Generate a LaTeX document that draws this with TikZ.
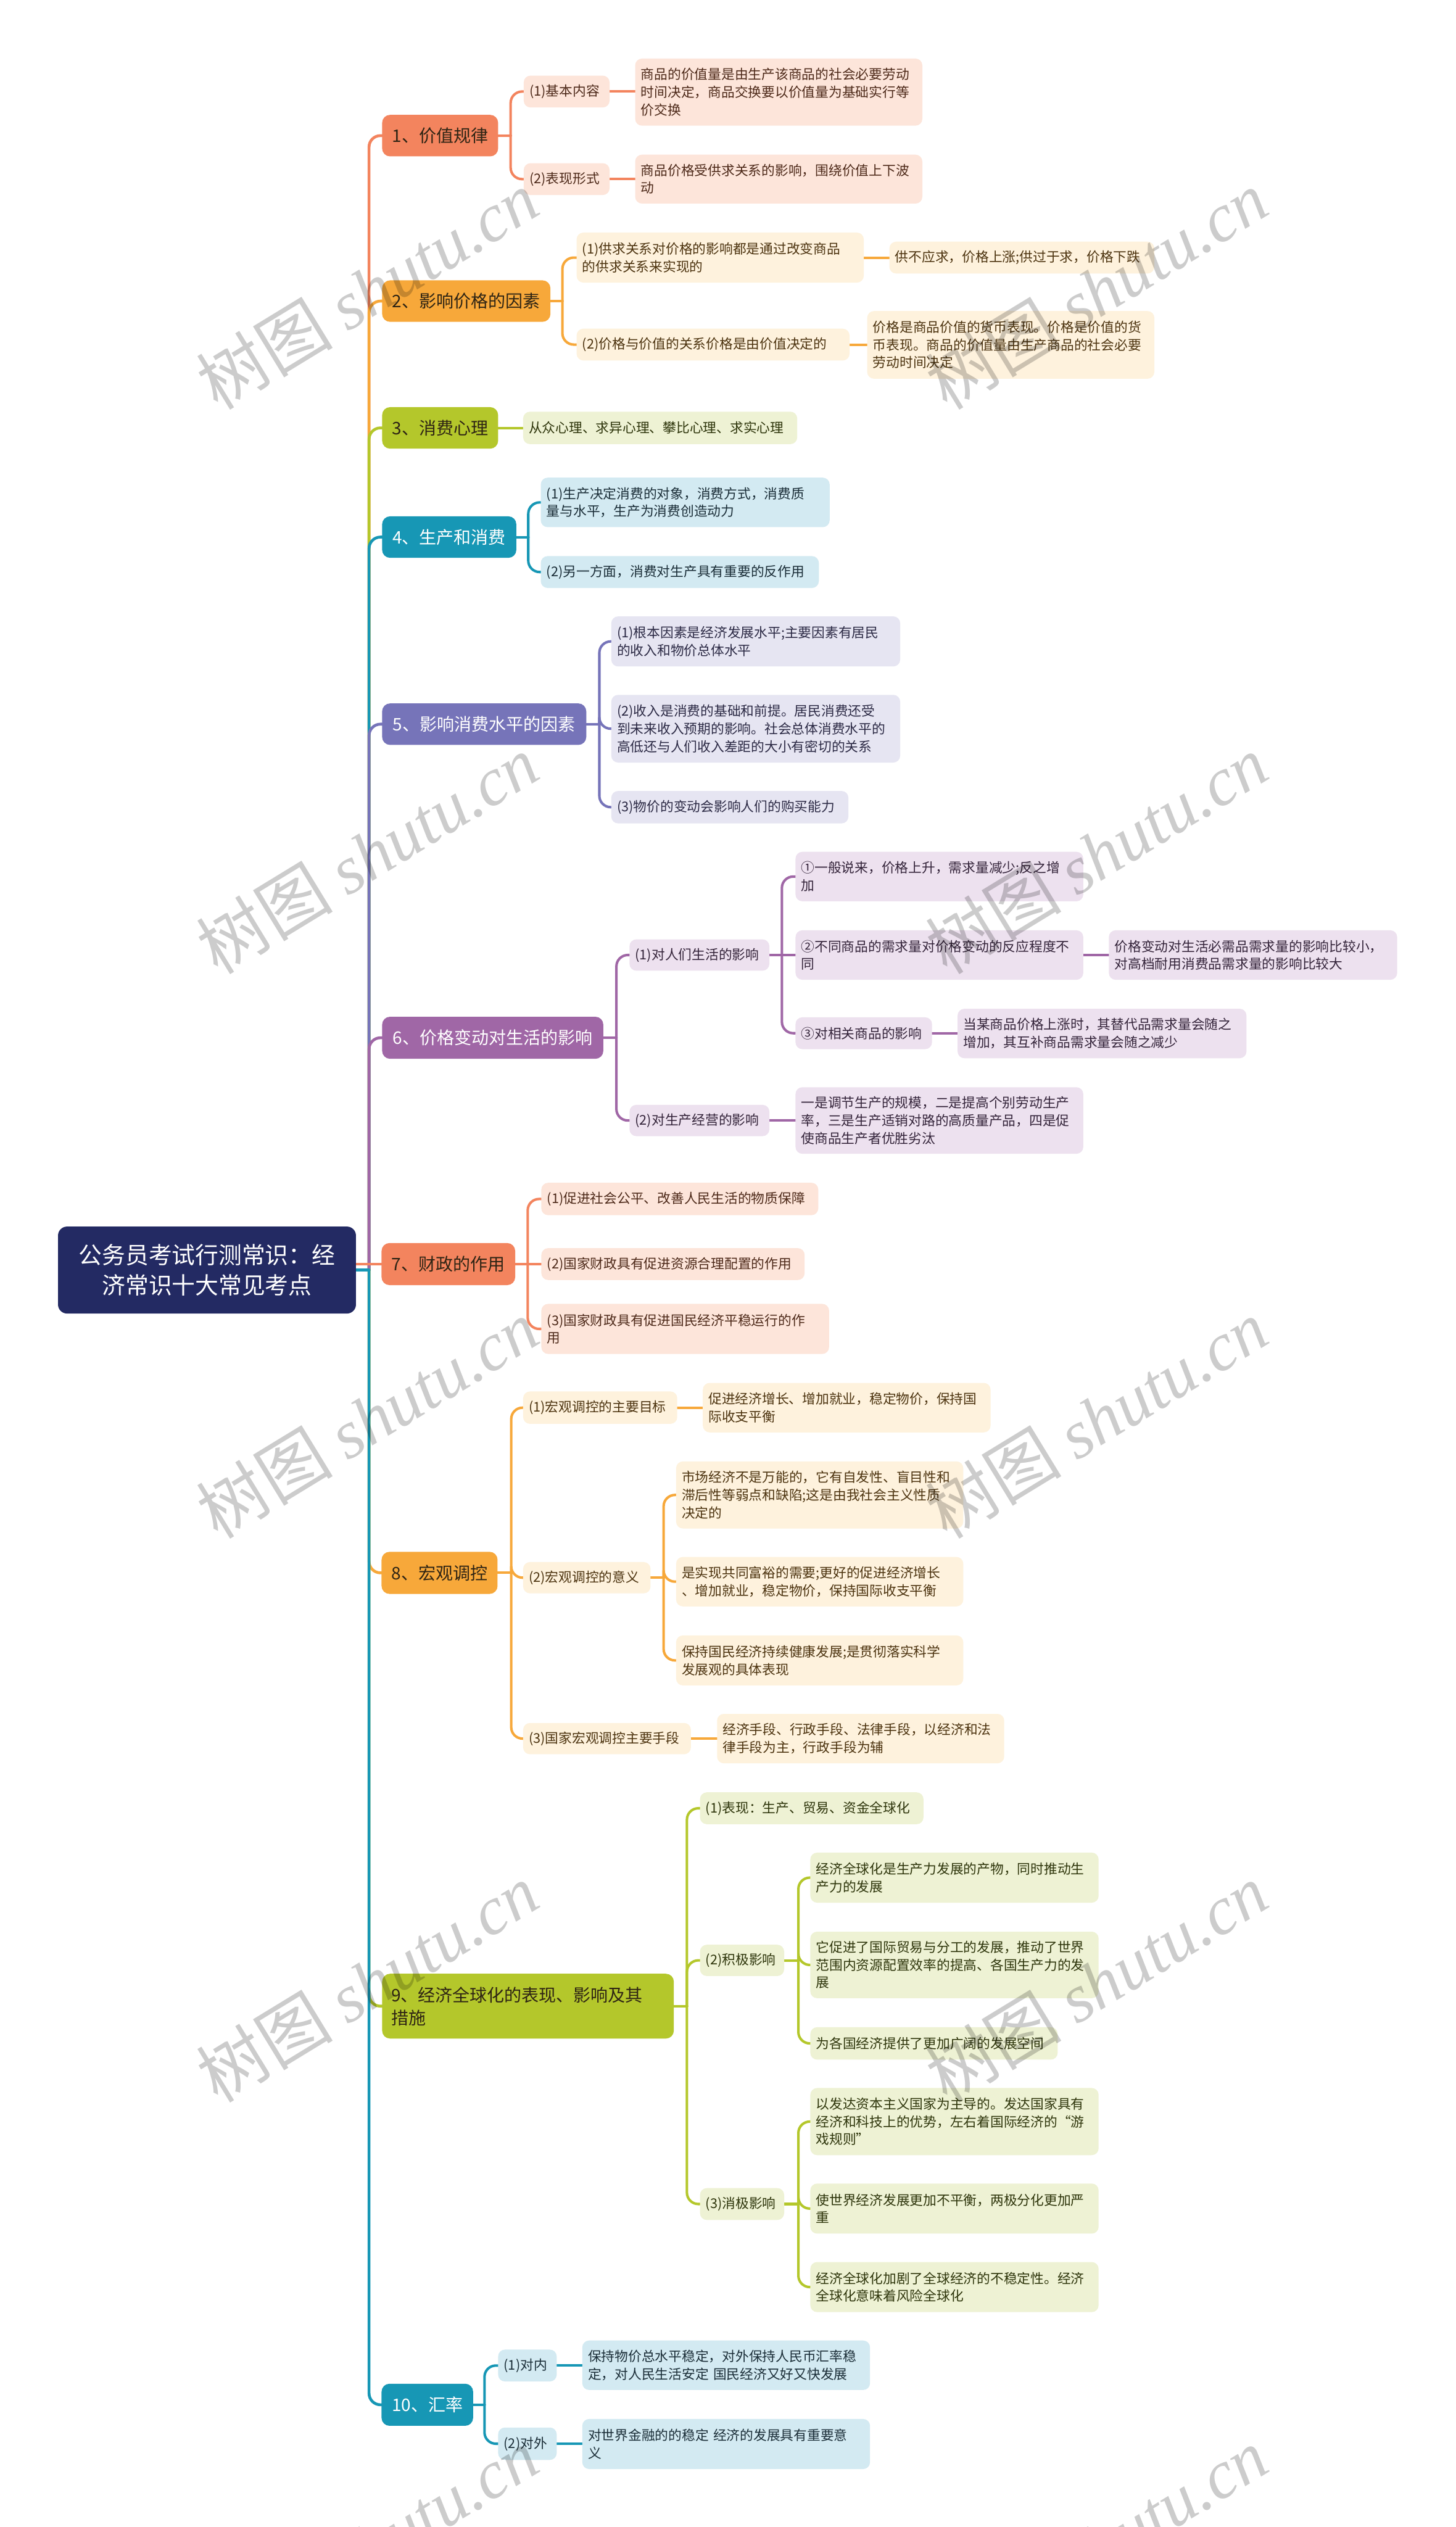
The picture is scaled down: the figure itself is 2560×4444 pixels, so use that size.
\documentclass[tikz,border=0pt]{standalone}
\usepackage{fontspec}
\setmainfont{Noto Sans CJK SC}
\newfontfamily\wmlatin{Liberation Serif}
\pgfdeclarelayer{bg}
\pgfdeclarelayer{fg}
\pgfsetlayers{bg,main,fg}

\definecolor{rootc}{HTML}{232A63}
\definecolor{coral}{HTML}{F3845E}
\definecolor{orng}{HTML}{F7A83A}
\definecolor{olive}{HTML}{B4C72B}
\definecolor{teal}{HTML}{1797B5}
\definecolor{peri}{HTML}{7674B9}
\definecolor{purp}{HTML}{A067A6}
\definecolor{fpeach}{HTML}{FDE5DA}
\definecolor{fcream}{HTML}{FEF2DD}
\definecolor{folive}{HTML}{EEF2D4}
\definecolor{fblue}{HTML}{D3EAF2}
\definecolor{flav}{HTML}{E6E5F2}
\definecolor{fpurp}{HTML}{EDE1EF}
\definecolor{tcoral}{HTML}{4E2A1A}
\definecolor{torng}{HTML}{4D3410}
\definecolor{tolive}{HTML}{2F360C}
\definecolor{tteal}{HTML}{1B2E38}
\definecolor{tperi}{HTML}{2C2A45}
\definecolor{tpurp}{HTML}{34243A}
\definecolor{tdark}{HTML}{2E2414}

\tikzset{
  box/.style={rectangle, rounded corners=6pt, outer sep=0pt, align=left,
    font=\fontsize{11.8pt}{15.5pt}\selectfont},
  lone/.style={box, rounded corners=7pt, align=center,
    font=\fontsize{15.2pt}{20pt}\selectfont},
  rootbox/.style={box, rounded corners=8pt, align=center, fill=rootc, text=white,
    font=\fontsize{20.5pt}{26.5pt}\selectfont},
  Ka/.style={lone, fill=coral, text=tdark},
  Kb/.style={lone, fill=orng, text=tdark},
  Kc/.style={lone, fill=olive, text=tdark},
  Kd/.style={lone, fill=teal, text=white},
  Ke/.style={lone, fill=peri, text=white},
  Kf/.style={lone, fill=purp, text=white},
  Sa/.style={box, fill=fpeach, text=tcoral},
  Sb/.style={box, fill=fcream, text=torng},
  Sc/.style={box, fill=folive, text=tolive},
  Sd/.style={box, fill=fblue, text=tteal},
  Se/.style={box, fill=flav, text=tperi},
  Sf/.style={box, fill=fpurp, text=tpurp},
  wire/.style={line width=2.2pt, line cap=round},
  trunk/.style={line width=2.5pt, line cap=round},
  wm/.style={text=black, text opacity=0.2, rotate=31.4,
    font=\fontsize{60pt}{60pt}\selectfont},
}

% [pad]{style}{name}{left}{top}{right}{bottom}{text}
\newcommand\BX[8][5]{%
  \pgfmathsetmacro\bxw{(#6-#4)*0.5}%
  \pgfmathsetmacro\bxh{(#7-#5)*0.5}%
  \pgfmathsetmacro\bxt{\bxw-2*#1}%
  \node[#2, anchor=north west, inner xsep=#1pt, inner ysep=0pt,
    minimum width=\bxw pt, minimum height=\bxh pt, text width=\bxt pt]
    (#3) at (#4,#5) {#8};}
% style, parent, child, x of the vertical bar
\newcommand\FORK[4]{%
  \draw[#1] (#2.east) -- (#4,0 |- #2.east);
  \draw[#1, rounded corners=10pt] (#4,0 |- #2.east) -- (#4,0 |- #3.west) -- (#3.west);}
\newcommand\LINK[3]{\draw[#1] (#2.east) -- (#2.east -| #3.west);}

\begin{document}
\begin{tikzpicture}[x=0.5pt, y=-0.5pt]
\useasboundingbox (0,0) rectangle (2560,4444);

% root
\BX[10]{rootbox}{root}{102}{2157}{626}{2310}{公务员考试行测常识：经\\济常识十大常见考点}

% branch 1
\BX[8]{Ka}{n1}{672}{202}{876}{275}{1、价值规律}
\BX{Sa}{c11}{921}{133}{1072}{189}{(1)基本内容}
\BX{Sa}{l11}{1117}{103}{1622}{221}{商品的价值量是由生产该商品的社会必要劳动\\时间决定，商品交换要以价值量为基础实行等\\价交换}
\BX{Sa}{c12}{921}{287}{1072}{343}{(2)表现形式}
\BX{Sa}{l12}{1117}{272}{1622}{358}{商品价格受供求关系的影响，围绕价值上下波\\动}

% branch 2
\BX[8]{Kb}{n2}{672}{493}{968}{566}{2、影响价格的因素}
\BX{Sb}{c21}{1014}{409}{1519}{497}{(1)供求关系对价格的影响都是通过改变商品\\的供求关系来实现的}
\BX{Sb}{l21}{1564}{425}{2030}{481}{供不应求，价格上涨;供过于求，价格下跌}
\BX{Sb}{c22}{1014}{578}{1494}{634}{(2)价格与价值的关系价格是由价值决定的}
\BX{Sb}{l22}{1525}{547}{2030}{666}{价格是商品价值的货币表现。价格是价值的货\\币表现。商品的价值量由生产商品的社会必要\\劳动时间决定}

% branch 3
\BX[8]{Kc}{n3}{672}{716}{876}{789}{3、消费心理}
\BX{Sc}{l31}{920}{724}{1402}{781}{从众心理、求异心理、攀比心理、求实心理}

% branch 4
\BX[8]{Kd}{n4}{672}{908}{908}{981}{4、生产和消费}
\BX{Sd}{c41}{951}{840}{1459}{927}{(1)生产决定消费的对象，消费方式，消费质\\量与水平，生产为消费创造动力}
\BX{Sd}{c42}{951}{978}{1440}{1034}{(2)另一方面，消费对生产具有重要的反作用}

% branch 5
\BX[8]{Ke}{n5}{672}{1237}{1031}{1310}{5、影响消费水平的因素}
\BX{Se}{c51}{1075}{1084}{1583}{1172}{(1)根本因素是经济发展水平;主要因素有居民\\的收入和物价总体水平}
\BX{Se}{c52}{1075}{1222}{1583}{1341}{(2)收入是消费的基础和前提。居民消费还受\\到未来收入预期的影响。社会总体消费水平的\\高低还与人们收入差距的大小有密切的关系}
\BX{Se}{c53}{1075}{1391}{1492}{1448}{(3)物价的变动会影响人们的购买能力}

% branch 6
\BX[8]{Kf}{n6}{672}{1788}{1061}{1862}{6、价格变动对生活的影响}
\BX{Sf}{c61}{1107}{1652}{1353}{1707}{(1)对人们生活的影响}
\BX{Sf}{c62}{1107}{1943}{1353}{1998}{(2)对生产经营的影响}
\BX{Sf}{g611}{1399}{1498}{1905}{1585}{①一般说来，价格上升，需求量减少;反之增\\加}
\BX{Sf}{g612}{1399}{1636}{1905}{1723}{②不同商品的需求量对价格变动的反应程度不\\同}
\BX{Sf}{g613}{1399}{1789}{1639}{1845}{③对相关商品的影响}
\BX{Sf}{l612}{1950}{1636}{2457}{1723}{价格变动对生活必需品需求量的影响比较小，\\对高档耐用消费品需求量的影响比较大}
\BX{Sf}{l613}{1684}{1774}{2192}{1861}{当某商品价格上涨时，其替代品需求量会随之\\增加，其互补商品需求量会随之减少}
\BX{Sf}{l62}{1399}{1912}{1905}{2029}{一是调节生产的规模，二是提高个别劳动生产\\率，三是生产适销对路的高质量产品，四是促\\使商品生产者优胜劣汰}

% branch 7
\BX[8]{Ka}{n7}{671}{2186}{906}{2260}{7、财政的作用}
\BX{Sa}{c71}{952}{2080}{1439}{2137}{(1)促进社会公平、改善人民生活的物质保障}
\BX{Sa}{c72}{952}{2195}{1415}{2251}{(2)国家财政具有促进资源合理配置的作用}
\BX{Sa}{c73}{952}{2293}{1458}{2381}{(3)国家财政具有促进国民经济平稳运行的作\\用}

% branch 8
\BX[8]{Kb}{n8}{671}{2729}{875}{2803}{8、宏观调控}
\BX{Sb}{c81}{920}{2447}{1191}{2504}{(1)宏观调控的主要目标}
\BX{Sb}{l81}{1236}{2432}{1742}{2519}{促进经济增长、增加就业，稳定物价，保持国\\际收支平衡}
\BX{Sb}{c82}{920}{2747}{1144}{2802}{(2)宏观调控的意义}
\BX{Sb}{g821}{1189}{2570}{1694}{2688}{市场经济不是万能的，它有自发性、盲目性和\\滞后性等弱点和缺陷;这是由我社会主义性质\\决定的}
\BX{Sb}{g822}{1189}{2738}{1694}{2825}{是实现共同富裕的需要;更好的促进经济增长\\、增加就业，稳定物价，保持国际收支平衡}
\BX{Sb}{g823}{1189}{2876}{1694}{2964}{保持国民经济持续健康发展;是贯彻落实科学\\发展观的具体表现}
\BX{Sb}{c83}{920}{3030}{1215}{3085}{(3)国家宏观调控主要手段}
\BX{Sb}{l83}{1261}{3014}{1766}{3101}{经济手段、行政手段、法律手段，以经济和法\\律手段为主，行政手段为辅}

% branch 9
\BX[8]{Kc, align=left}{n9}{672}{3471}{1185}{3585}{9、经济全球化的表现、影响及其\\措施}
\BX{Sc}{c91}{1231}{3152}{1624}{3208}{(1)表现：生产、贸易、资金全球化}
\BX{Sc}{c92}{1231}{3420}{1379}{3475}{(2)积极影响}
\BX{Sc}{g921}{1425}{3258}{1932}{3346}{经济全球化是生产力发展的产物，同时推动生\\产力的发展}
\BX{Sc}{g922}{1425}{3397}{1932}{3514}{它促进了国际贸易与分工的发展，推动了世界\\范围内资源配置效率的提高、各国生产力的发\\展}
\BX{Sc}{g923}{1425}{3565}{1860}{3622}{为各国经济提供了更加广阔的发展空间}
\BX{Sc}{c93}{1231}{3848}{1379}{3904}{(3)消极影响}
\BX{Sc}{g931}{1425}{3672}{1932}{3790}{以发达资本主义国家为主导的。发达国家具有\\经济和科技上的优势，左右着国际经济的“游\\戏规则”}
\BX{Sc}{g932}{1425}{3840}{1932}{3928}{使世界经济发展更加不平衡，两极分化更加严\\重}
\BX{Sc}{g933}{1425}{3978}{1932}{4066}{经济全球化加剧了全球经济的不稳定性。经济\\全球化意味着风险全球化}

% branch 10
\BX[8]{Kd}{n10}{671}{4192}{832}{4266}{10、汇率}
\BX{Sd}{c101}{876}{4132}{979}{4188}{(1)对内}
\BX{Sd}{l101}{1024}{4116}{1530}{4203}{保持物价总水平稳定，对外保持人民币汇率稳\\定，对人民生活安定 国民经济又好又快发展}
\BX{Sd}{c102}{876}{4269}{979}{4326}{(2)对外}
\BX{Sd}{l102}{1024}{4254}{1530}{4342}{对世界金融的的稳定 经济的发展具有重要意\\义}

\begin{pgfonlayer}{bg}
\fill[white] (0,0) rectangle (2560,4444);
% trunk
\FORK{trunk, coral}{root}{n1}{649}
\FORK{trunk, orng}{root}{n2}{649}
\FORK{trunk, olive}{root}{n3}{649}
\FORK{trunk, teal}{root}{n4}{649}
\FORK{trunk, peri}{root}{n5}{649}
\FORK{trunk, purp}{root}{n6}{649}
\draw[trunk, coral] (n7.west) -- (n7.west -| root.east);
\FORK{trunk, orng}{root}{n8}{649}
\FORK{trunk, olive}{root}{n9}{649}
\FORK{trunk, teal}{root}{n10}{649}
% branch 1
\FORK{wire, coral}{n1}{c11}{898}
\FORK{wire, coral}{n1}{c12}{898}
\LINK{wire, coral}{c11}{l11}
\LINK{wire, coral}{c12}{l12}
% branch 2
\FORK{wire, orng}{n2}{c21}{989}
\FORK{wire, orng}{n2}{c22}{989}
\LINK{wire, orng}{c21}{l21}
\LINK{wire, orng}{c22}{l22}
% branch 3
\LINK{wire, olive}{n3}{l31}
% branch 4
\FORK{wire, teal}{n4}{c41}{929}
\FORK{wire, teal}{n4}{c42}{929}
% branch 5
\FORK{wire, peri}{n5}{c51}{1054}
\FORK{wire, peri}{n5}{c52}{1054}
\FORK{wire, peri}{n5}{c53}{1054}
% branch 6
\FORK{wire, purp}{n6}{c61}{1084}
\FORK{wire, purp}{n6}{c62}{1084}
\FORK{wire, purp}{c61}{g611}{1375}
\LINK{wire, purp}{c61}{g612}
\FORK{wire, purp}{c61}{g613}{1375}
\LINK{wire, purp}{g612}{l612}
\LINK{wire, purp}{g613}{l613}
\LINK{wire, purp}{c62}{l62}
% branch 7
\FORK{wire, coral}{n7}{c71}{928}
\LINK{wire, coral}{n7}{c72}
\FORK{wire, coral}{n7}{c73}{928}
% branch 8
\FORK{wire, orng}{n8}{c81}{899}
\FORK{wire, orng}{n8}{c82}{899}
\FORK{wire, orng}{n8}{c83}{899}
\LINK{wire, orng}{c81}{l81}
\FORK{wire, orng}{c82}{g821}{1167}
\FORK{wire, orng}{c82}{g822}{1167}
\FORK{wire, orng}{c82}{g823}{1167}
\LINK{wire, orng}{c83}{l83}
% branch 9
\FORK{wire, olive}{n9}{c91}{1208}
\FORK{wire, olive}{n9}{c92}{1208}
\FORK{wire, olive}{n9}{c93}{1208}
\FORK{wire, olive}{c92}{g921}{1404}
\FORK{wire, olive}{c92}{g922}{1404}
\FORK{wire, olive}{c92}{g923}{1404}
\FORK{wire, olive}{c93}{g931}{1404}
\FORK{wire, olive}{c93}{g932}{1404}
\FORK{wire, olive}{c93}{g933}{1404}
% branch 10
\FORK{wire, teal}{n10}{c101}{852}
\FORK{wire, teal}{n10}{c102}{852}
\LINK{wire, teal}{c101}{l101}
\LINK{wire, teal}{c102}{l102}
\end{pgfonlayer}

\begin{pgfonlayer}{fg}
\foreach \wx/\wy [count=\i] in {646/510, 1928/510, 646/1502, 1928/1502, 646/2495, 1928/2495, 646/3487, 1928/3487, 646/4479, 1928/4479}
  \node[wm] (wm\i) at (\wx,\wy) {树图 {\wmlatin\itshape shutu.cn}};
\end{pgfonlayer}
\end{tikzpicture}
\end{document}
